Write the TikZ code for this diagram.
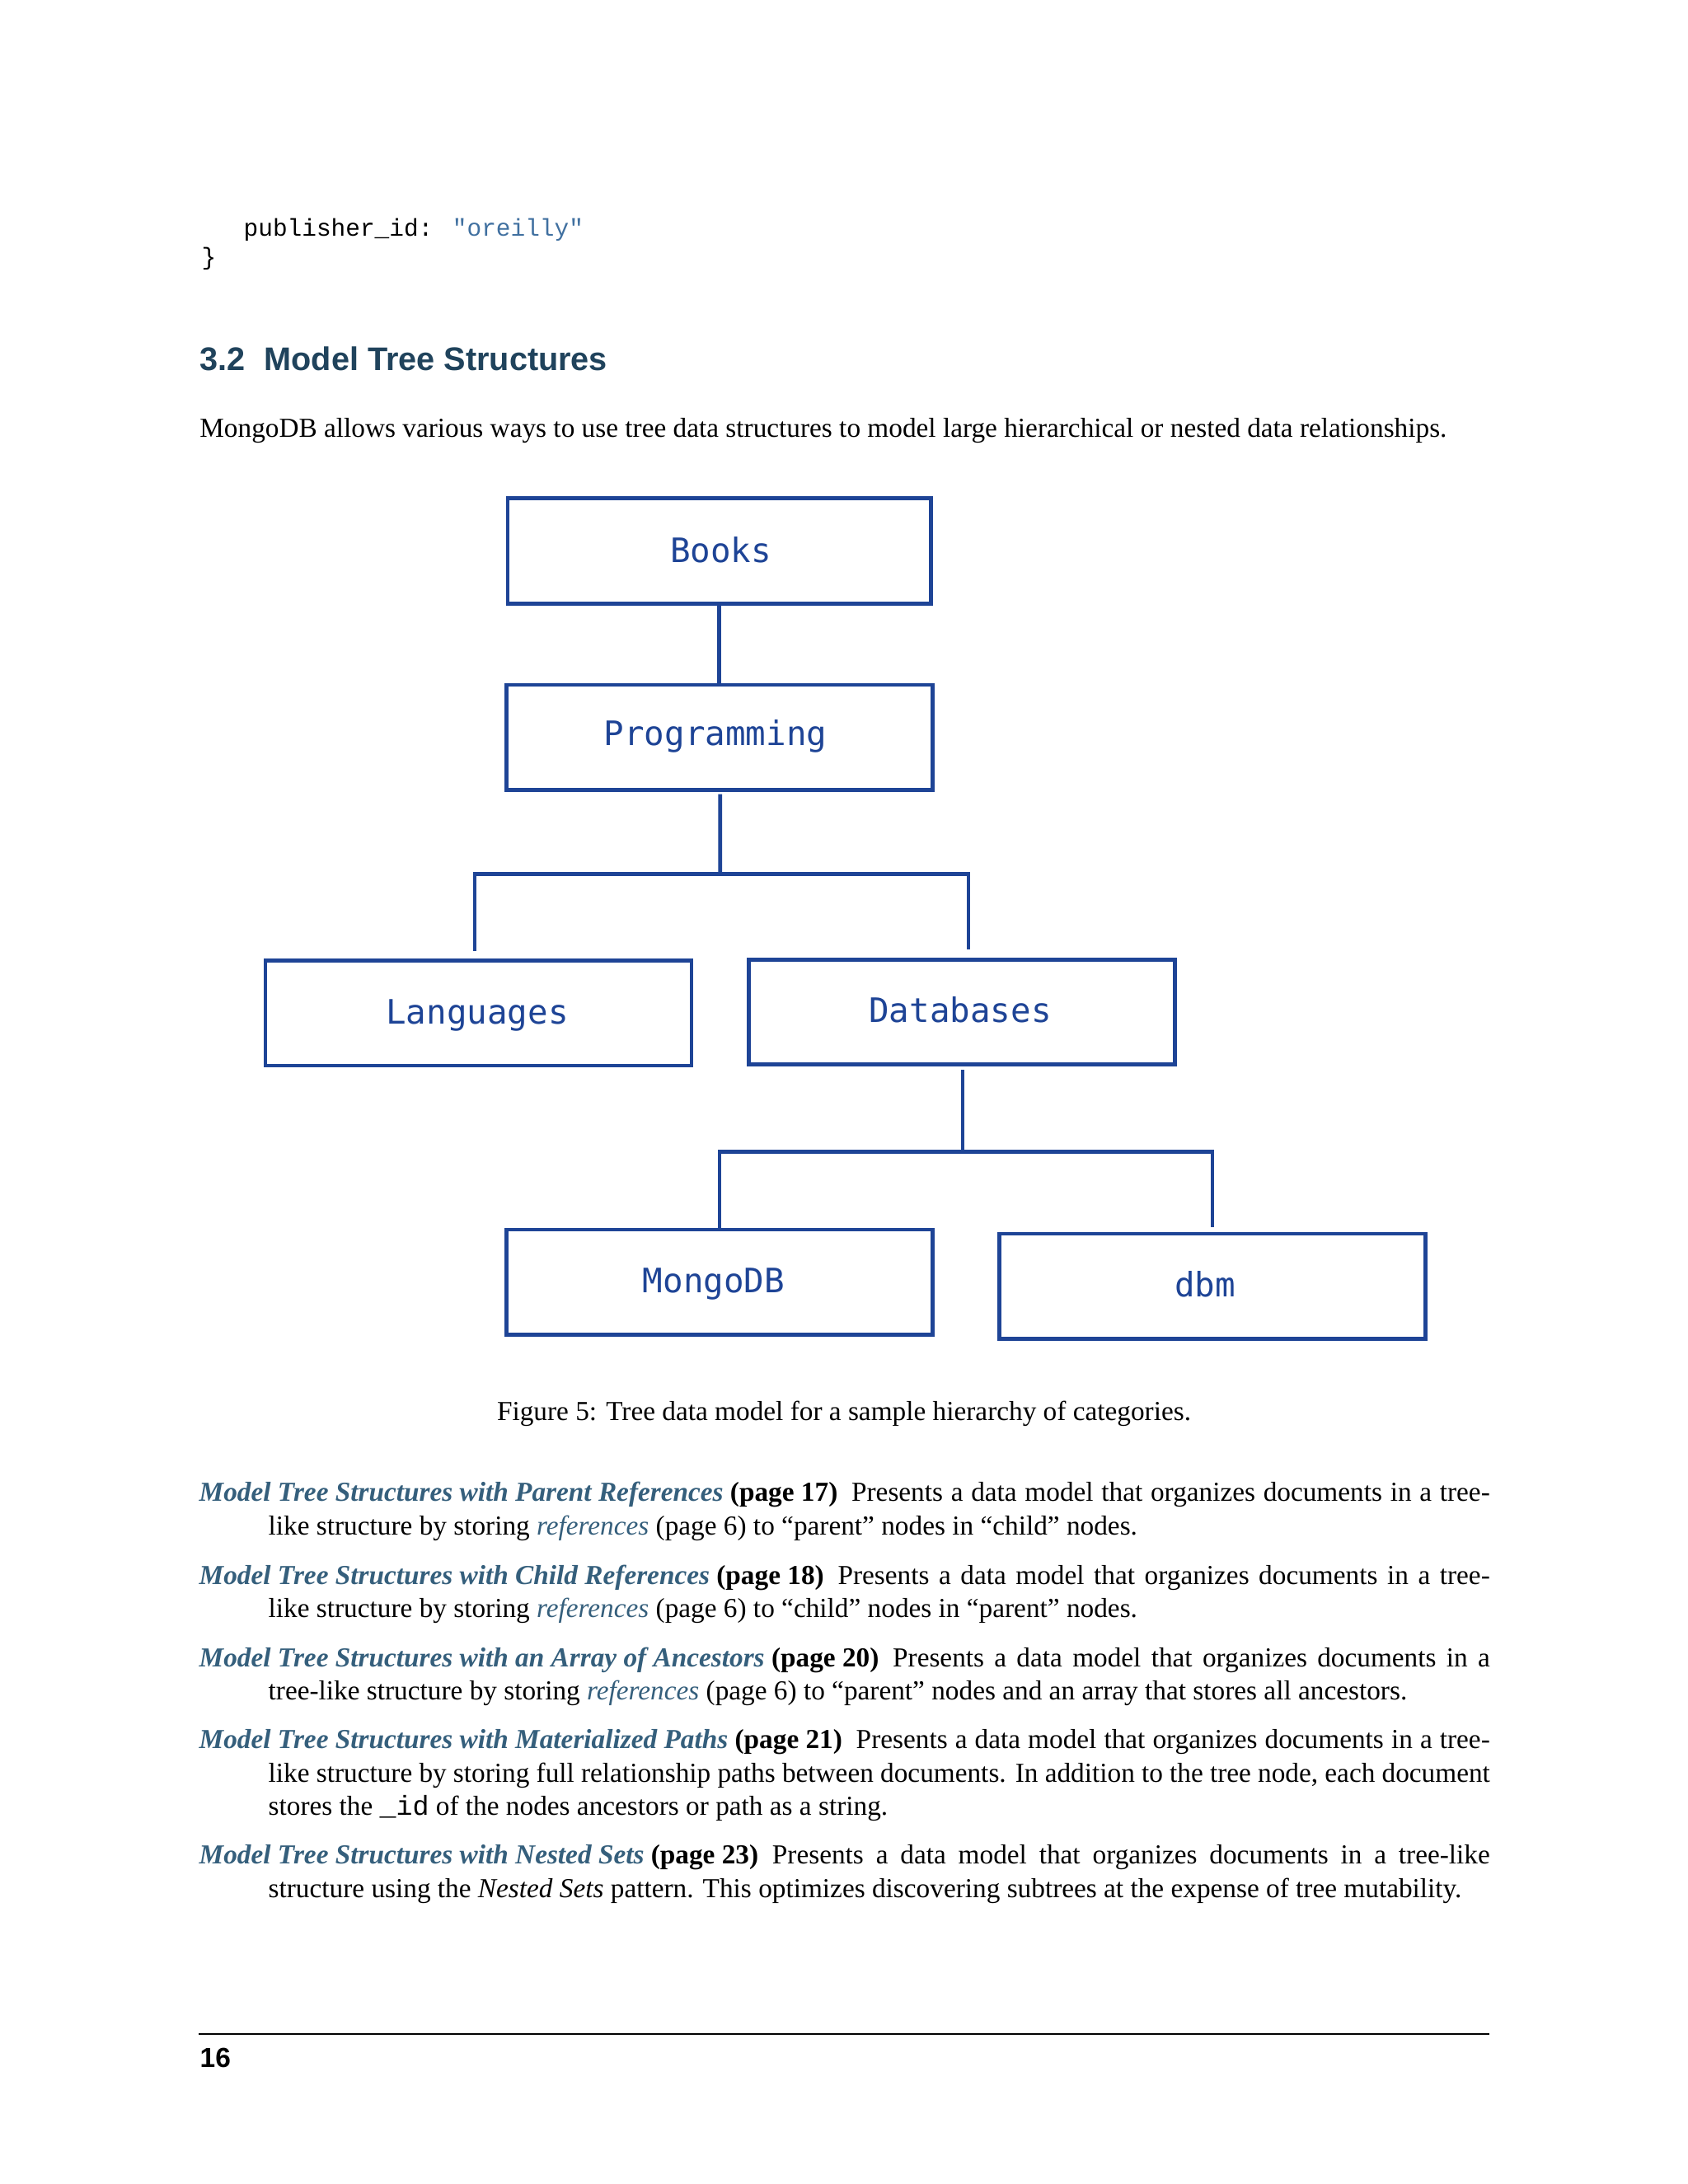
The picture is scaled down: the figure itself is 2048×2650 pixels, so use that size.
\documentclass[tikz,border=0pt]{standalone}
\usepackage{fontspec}
\usepackage{xcolor}
\usetikzlibrary{calc}
\setmainfont{Liberation Serif}
\newfontfamily\headfont{Liberation Sans}
\newfontfamily\codefont{Liberation Mono}
\newfontfamily\boxfont{DejaVu Sans Mono}
\definecolor{boxblue}{RGB}{30,68,150}
\definecolor{titlecol}{rgb}{0.126,0.263,0.361}
\definecolor{linkcol}{rgb}{0.208,0.374,0.486}
\definecolor{strblue}{RGB}{64,112,160}
\newcommand{\lk}[1]{{\color{linkcol}\bfseries\itshape #1}}
\newcommand{\rf}[1]{{\color{linkcol}\itshape #1}}
\begin{document}
\begin{tikzpicture}[x=0.298828125pt, y=-0.298828125pt,
  catbox/.style={draw=boxblue, line width=1.4pt, rectangle, inner sep=0pt, outer sep=0pt,
    minimum width=154.5pt, minimum height=38.1pt},
  conn/.style={draw=boxblue, line width=1.4pt},
  boxtext/.style={font=\boxfont\fontsize{12.2}{14}\selectfont, text=boxblue, anchor=base, inner sep=0pt},
  ln/.style={font=\fontsize{9.95}{12}\selectfont, anchor=base west, inner sep=0pt},
  captext/.style={font=\fontsize{9.95}{12}\selectfont, anchor=base, inner sep=0pt}
]
\useasboundingbox (0,0) rectangle (2048,2650);
\fill[white] (0,0) rectangle (2048,2650);

% code fragment
\node[ln, font=\codefont\fontsize{8.8}{11}\selectfont] (code1) at (295,286.7) {publisher\_id: {\color{strblue}"oreilly"}};
\node[ln, font=\codefont\fontsize{8.8}{11}\selectfont] (code2) at (244,321) {\}};

% heading and paragraph
\node[ln, font=\headfont\bfseries\fontsize{11.85}{14}\selectfont, text=titlecol] (head) at (241.7,449) {3.2\hspace{6.9pt}Model Tree Structures};
\node[ln] (para) at (241.7,530) {MongoDB allows various ways to use tree data structures to model large hierarchical or nested data relationships.};

% tree boxes
\node[catbox, minimum width=153.4pt] (books) at (872.75,668.5) {};
\node[catbox] (prog) at (872.75,894.75) {};
\node[catbox] (lang) at (580.6,1229.25) {};
\node[catbox] (db) at (1167.25,1228) {};
\node[catbox] (mongo) at (873.1,1555.75) {};
\node[catbox] (dbm) at (1471,1560.65) {};

% box labels
\node[boxtext] (booksT) at (874.5,682.6) {Books};
\node[boxtext] (progT) at (868,904.5) {Programming};
\node[boxtext] (langT) at (579,1242.5) {Languages};
\node[boxtext] (dbT) at (1165,1240.6) {Databases};
\node[boxtext] (mongoT) at (866,1568) {MongoDB};
\node[boxtext] (dbmT) at (1462,1573.4) {dbm};

% connectors
\coordinate (j1) at (873.8,1060.3);
\coordinate (langIn) at (576,1154);
\coordinate (dbIn) at (1175,1152);
\coordinate (j2) at (1168,1397.8);
\coordinate (dbmIn) at (1471,1489);
\draw[conn] (books.south) -- (prog.north);
\draw[conn] ($(prog.south)+(1,5)$) -- (j1);
\draw[conn] (langIn) |- (j1) -| (dbIn);
\draw[conn] ($(db.south)+(0.75,6.5)$) -- (j2);
\draw[conn] (mongo.north) |- (j2) -| (dbmIn);

% caption
\node[captext] (caption) at (1024,1723.3) {Figure 5: Tree data model for a sample hierarchy of categories.};

% list items
\node[ln] (i1a) at (241,1821.5) {\makebox[468pt][s]{\mbox{\lk{Model Tree Structures with Parent References} \textbf{(page 17)}}\hspace{5pt}Presents a data model that organizes documents in a tree-}};
\node[ln] (i1b) at (325,1862) {like structure by storing \rf{references} (page 6) to “parent” nodes in “child” nodes.};

\node[ln] (i2a) at (241,1922.5) {\makebox[468pt][s]{\mbox{\lk{Model Tree Structures with Child References} \textbf{(page 18)}}\hspace{5pt}Presents a data model that organizes documents in a tree-}};
\node[ln] (i2b) at (325,1962) {like structure by storing \rf{references} (page 6) to “child” nodes in “parent” nodes.};

\node[ln] (i3a) at (241,2022) {\makebox[468pt][s]{\mbox{\lk{Model Tree Structures with an Array of Ancestors} \textbf{(page 20)}}\hspace{5pt}Presents a data model that organizes documents in a}};
\node[ln] (i3b) at (325,2062) {tree-like structure by storing \rf{references} (page 6) to “parent” nodes and an array that stores all ancestors.};

\node[ln] (i4a) at (241,2121.8) {\makebox[468pt][s]{\mbox{\lk{Model Tree Structures with Materialized Paths} \textbf{(page 21)}}\hspace{5pt}Presents a data model that organizes documents in a tree-}};
\node[ln] (i4b) at (325,2162) {\makebox[442.9pt][s]{like structure by storing full relationship paths between documents. In addition to the tree node, each document}};
\node[ln] (i4c) at (325,2202) {stores the {\codefont\_id} of the nodes ancestors or path as a string.};

\node[ln] (i5a) at (241,2261) {\makebox[468pt][s]{\mbox{\lk{Model Tree Structures with Nested Sets} \textbf{(page 23)}}\hspace{5pt}Presents a data model that organizes documents in a tree-like}};
\node[ln] (i5b) at (325,2302) {structure using the \textit{Nested Sets} pattern. This optimizes discovering subtrees at the expense of tree mutability.};

% footer
\draw[line width=0.45pt] (241,2468) -- (1807,2468);
\node[ln, font=\headfont\bfseries\fontsize{10}{12}\selectfont] (pagenum) at (242,2508) {16};
\end{tikzpicture}
\end{document}
